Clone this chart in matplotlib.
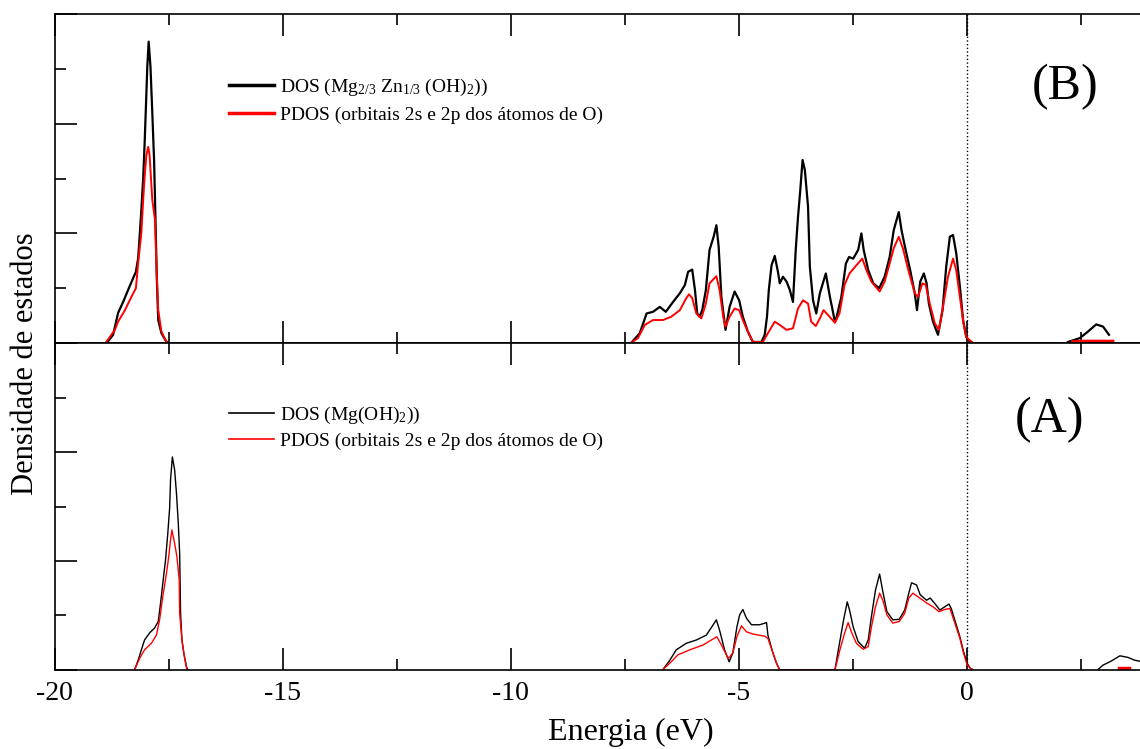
import numpy as np
import matplotlib
matplotlib.use("Agg")
import matplotlib.pyplot as plt
from matplotlib.ticker import MultipleLocator

plt.rcParams['font.family'] = ['Liberation Serif', 'DejaVu Serif']
plt.rcParams['mathtext.fontset'] = 'custom'
plt.rcParams['mathtext.rm'] = 'Liberation Serif'
plt.rcParams['mathtext.it'] = 'Liberation Serif:italic'

# ---- panel B : Mg2/3 Zn1/3 (OH)2 ----
b_core_e = [-18.86, -18.72, -18.61, -18.50, -18.36, -18.22, -18.17, -18.14, -18.10, -18.06,
            -18.03, -18.00, -17.97, -17.94, -17.90, -17.86, -17.82, -17.79, -17.76, -17.73,
            -17.66, -17.57, -17.52]
b_core_dos = [0, 1.5, 5.5, 7.5, 10.3, 13.0, 15.5, 19.2, 24.3, 30.1,
              36.1, 43.1, 50.4, 55.0, 50.4, 42.0, 33.1, 22.4, 11.5, 4.2,
              1.8, 0.5, 0]
b_core_pe = [-18.87, -18.68, -18.61, -18.46, -18.32, -18.22, -18.17, -18.10, -18.06, -18.03,
             -17.99, -17.95, -17.92, -17.86, -17.80, -17.77, -17.73, -17.66, -17.57, -17.52]
b_core_pdos = [0.2, 2.4, 3.9, 6.0, 8.4, 10.0, 14.6, 20.1, 26.1, 30.1,
               34.3, 35.8, 34.3, 26.1, 22.4, 13.9, 6.0, 2.1, 0.5, 0]

b_val_e = [-7.35, -7.17, -7.02, -6.88, -6.73, -6.60, -6.44, -6.29, -6.18, -6.11, -6.02, -5.96,
           -5.91, -5.86, -5.80, -5.72, -5.64, -5.55, -5.49, -5.44, -5.38, -5.29, -5.20, -5.09,
           -4.99, -4.91, -4.80, -4.69, -4.50, -4.43, -4.38, -4.34, -4.28, -4.21, -4.14, -4.10,
           -4.03, -3.95, -3.88, -3.81, -3.75, -3.70, -3.65, -3.60, -3.55, -3.48, -3.44, -3.37,
           -3.30, -3.22, -3.09, -3.00, -2.89, -2.86, -2.75, -2.65, -2.58, -2.49, -2.38, -2.31,
           -2.26, -2.16, -2.05, -1.92, -1.80, -1.69, -1.60, -1.49, -1.43, -1.34, -1.24, -1.14,
           -1.09, -1.02, -0.94, -0.88, -0.83, -0.74, -0.63, -0.53, -0.45, -0.37, -0.30, -0.23,
           -0.15, -0.08, -0.01, 0.07, 0.14]
b_val_dos = [0.1, 1.8, 5.4, 5.7, 6.6, 5.7, 7.5, 9.1, 10.6, 13.0, 13.4, 9.7,
             5.4, 4.8, 6.0, 9.7, 17.0, 19.4, 21.5, 17.6, 8.4, 2.4, 6.6, 9.4,
             7.8, 4.8, 2.1, 0.2, 0.2, 1.5, 4.8, 9.7, 14.2, 15.9, 13.0, 10.9,
             12.1, 11.2, 9.7, 7.5, 17.0, 23.0, 27.9, 33.4, 31.6, 24.9, 13.9, 7.8,
             5.4, 9.1, 12.7, 8.4, 3.9, 4.5, 8.4, 14.5, 15.7, 15.4, 17.0, 20.0,
             17.0, 13.3, 10.9, 10.0, 12.1, 15.7, 20.6, 23.9, 20.6, 17.0, 13.3, 9.1,
             6.0, 11.2, 12.7, 10.9, 7.2, 3.9, 1.5, 6.0, 13.9, 19.4, 19.7, 16.4,
             10.3, 4.2, 1.1, 0.2, 0]
b_val_pe = [-7.35, -7.21, -7.06, -6.88, -6.66, -6.48, -6.29, -6.15, -6.09, -6.02, -5.93, -5.82,
            -5.72, -5.64, -5.49, -5.42, -5.34, -5.29, -5.20, -5.09, -4.99, -4.91, -4.80, -4.69,
            -4.47, -4.36, -4.21, -4.10, -3.95, -3.81, -3.70, -3.59, -3.48, -3.41, -3.31, -3.22,
            -3.14, -3.04, -2.89, -2.79, -2.68, -2.57, -2.42, -2.29, -2.20, -2.09, -1.91, -1.80,
            -1.69, -1.60, -1.49, -1.40, -1.29, -1.14, -1.07, -0.97, -0.90, -0.81, -0.70, -0.61,
            -0.52, -0.41, -0.30, -0.23, -0.15, -0.07, -0.01, 0.07, 0.14]
b_val_pdos = [0.1, 0.9, 3.3, 4.2, 4.2, 4.8, 6.0, 8.2, 8.9, 8.2, 5.4, 4.5,
              7.2, 10.9, 12.2, 9.7, 4.8, 3.0, 4.8, 6.3, 6.0, 4.2, 2.1, 0.2,
              0.2, 1.8, 3.9, 3.3, 2.4, 2.7, 6.3, 7.8, 7.2, 3.9, 3.1, 4.5,
              6.0, 5.1, 3.7, 5.4, 10.6, 12.7, 14.2, 15.4, 13.3, 11.2, 9.4, 11.2,
              14.5, 17.3, 19.4, 17.3, 13.6, 9.1, 8.4, 10.9, 10.6, 7.2, 3.6, 2.4,
              6.6, 12.1, 15.4, 13.3, 8.4, 3.6, 1.1, 0.5, 0]

b_cond_e = [2.22, 2.48, 2.66, 2.84, 2.99, 3.12]
b_cond_dos = [0.2, 0.9, 2.1, 3.4, 3.0, 1.5]
b_cond_pe = [2.33, 2.50, 2.80, 3.20]
b_cond_pdos = [0.2, 0.3, 0.3, 0.3]

# ---- panel A : Mg(OH)2 ----
a_core_e = [-18.25, -18.17, -18.10, -18.03, -17.92, -17.81, -17.73, -17.68, -17.63, -17.57,
            -17.52, -17.48, -17.46, -17.42, -17.37, -17.33, -17.29, -17.26, -17.24, -17.21,
            -17.17, -17.11, -17.08]
a_core_dos = [0, 1.8, 3.7, 5.5, 6.8, 7.7, 8.9, 12.2, 15.9, 20.2,
              25.1, 29.7, 34.9, 39.1, 36.7, 32.4, 26.9, 21.4, 10.4, 5.5,
              3.1, 0.6, 0]
a_core_pe = [-18.25, -18.14, -18.03, -17.88, -17.77, -17.70, -17.63, -17.55, -17.50, -17.46,
             -17.43, -17.37, -17.32, -17.27, -17.26, -17.21, -17.15, -17.10]
a_core_pdos = [0, 2.1, 3.7, 4.9, 6.4, 9.2, 13.5, 17.7, 20.8, 23.9,
               25.7, 23.2, 20.8, 16.5, 10.4, 5.5, 2.1, 0]

a_val_e = [-6.66, -6.51, -6.37, -6.15, -5.93, -5.71, -5.56, -5.49, -5.42, -5.31, -5.21, -5.13,
           -5.04, -4.98, -4.91, -4.83, -4.72, -4.54, -4.39, -4.36, -4.26, -4.17, -4.10,
           -2.89, -2.79, -2.70, -2.62, -2.57, -2.49, -2.38, -2.24, -2.16, -2.09, -2.00, -1.91,
           -1.84, -1.75, -1.62, -1.48, -1.36, -1.27, -1.21, -1.10, -1.02, -0.88, -0.80, -0.70,
           -0.59, -0.48, -0.39, -0.34, -0.24, -0.15, -0.07, 0.01, 0.08, 0.15]
a_val_dos = [0.1, 1.8, 3.7, 4.9, 5.5, 6.4, 8.3, 9.2, 7.3, 3.7, 1.5, 3.1,
             7.9, 10.1, 11.1, 9.5, 8.3, 8.3, 8.7, 6.4, 3.4, 1.2, 0,
             0, 4.9, 9.2, 12.5, 11.0, 7.9, 5.2, 4.0, 5.5, 9.8, 14.7, 17.6,
             14.4, 10.7, 9.2, 9.3, 11.0, 14.1, 16.0, 15.6, 13.8, 12.8, 13.2, 12.2,
             11.0, 11.6, 12.1, 11.3, 8.6, 6.1, 3.4, 1.2, 0.3, 0]
a_val_pe = [-6.66, -6.48, -6.33, -6.07, -5.78, -5.60, -5.48, -5.38, -5.23, -5.13, -5.04, -4.94,
            -4.83, -4.69, -4.43, -4.36, -4.26, -4.17, -4.10,
            -2.89, -2.79, -2.68, -2.60, -2.53, -2.42, -2.27, -2.16, -2.09, -2.00, -1.91, -1.84,
            -1.75, -1.62, -1.48, -1.36, -1.27, -1.18, -1.03, -0.88, -0.74, -0.61, -0.48, -0.37,
            -0.26, -0.15, -0.07, 0.01, 0.08, 0.15]
a_val_pdos = [0.1, 1.5, 2.8, 3.7, 4.6, 5.5, 6.1, 4.6, 2.1, 3.1, 6.1, 8.1,
              7.0, 6.6, 6.2, 5.8, 3.4, 1.2, 0,
              0, 3.4, 6.7, 8.7, 7.0, 4.9, 3.8, 4.3, 7.9, 11.6, 14.1, 12.8,
              10.1, 8.6, 8.9, 10.4, 13.2, 14.1, 13.2, 12.3, 11.6, 10.7, 11.1, 11.3,
              8.6, 5.8, 3.1, 0.9, 0.3, 0]

a_cond_e = [2.88, 2.99, 3.14, 3.36, 3.54, 3.68, 3.80]
a_cond_dos = [0.1, 0.9, 1.5, 2.6, 2.3, 1.8, 1.6]
a_cond_pe = [3.35, 3.45, 3.55]
a_cond_pdos = [0.3, 0.3, 0.3]

xticks = [-20, -15, -10, -5, 0]
xlabel = 'Energia (eV)'
ylabel = 'Densidade de estados'
label_b = 'DOS (Mg$_{\\mathrm{2/3}}$ Zn$_{\\mathrm{1/3}}$ (OH)$_{\\mathrm{2}}$))'
label_a = 'DOS (Mg(OH)$_{\\mathrm{2}}$))'
label_p = 'PDOS (orbitais 2s e 2p dos átomos de O)'

fig = plt.figure(figsize=(11.4, 7.49), dpi=100)
ax_b = fig.add_axes([0.048, 0.542, 0.952, 0.439])
ax_a = fig.add_axes([0.048, 0.1055, 0.952, 0.4365], sharex=ax_b)

def style(ax):
    ax.set_xlim(-20, 3.8)
    ax.set_ylim(0, 60)
    ax.xaxis.set_major_locator(MultipleLocator(5))
    ax.xaxis.set_minor_locator(MultipleLocator(2.5))
    ax.yaxis.set_major_locator(MultipleLocator(20))
    ax.yaxis.set_minor_locator(MultipleLocator(10))
    ax.tick_params(which='both', direction='in', top=True, bottom=True, left=True, right=False,
                   labelleft=False, width=1.2)
    ax.tick_params(which='major', length=16)
    ax.tick_params(which='minor', length=8)
    ax.spines['right'].set_visible(False)
    for s in ['top', 'bottom', 'left']:
        ax.spines[s].set_linewidth(1.2)
    ax.axvline(0, color='black', linestyle=':', linewidth=1.0)

style(ax_b)
style(ax_a)

lw_b = 1.6
ax_b.plot(b_core_e, b_core_dos, color='black', lw=lw_b, label=label_b)
ax_b.plot(b_val_e, b_val_dos, color='black', lw=lw_b)
ax_b.plot(b_cond_e, b_cond_dos, color='black', lw=lw_b)
ax_b.plot(b_core_pe, b_core_pdos, color='red', lw=lw_b - 0.2, label=label_p)
ax_b.plot(b_val_pe, b_val_pdos, color='red', lw=lw_b - 0.2)
ax_b.plot(b_cond_pe, b_cond_pdos, color='red', lw=2.5)

lw_a = 1.0
ax_a.plot(a_core_e, a_core_dos, color='black', lw=lw_a, label=label_a)
ax_a.plot(a_val_e, a_val_dos, color='black', lw=lw_a)
ax_a.plot(a_cond_e, a_cond_dos, color='black', lw=lw_a)
ax_a.plot(a_core_pe, a_core_pdos, color='red', lw=lw_a, label=label_p)
ax_a.plot(a_val_pe, a_val_pdos, color='red', lw=lw_a)
ax_a.plot(a_cond_pe, a_cond_pdos, color='red', lw=2.5)

leg_b = ax_b.legend(loc='upper left', bbox_to_anchor=(0.161, 0.81), frameon=False, fontsize=14,
                    handlelength=2.3, handletextpad=0.3, labelspacing=0.45, borderpad=0,
                    borderaxespad=0)
for h in leg_b.get_lines():
    h.set_linewidth(2.5)
leg_a = ax_a.legend(loc='upper left', bbox_to_anchor=(0.161, 0.81), frameon=False, fontsize=14,
                    handlelength=2.3, handletextpad=0.3, labelspacing=0.3, borderpad=0,
                    borderaxespad=0)
for h in leg_a.get_lines():
    h.set_linewidth(1.2)

ax_b.text(0.931, 0.778, '(B)', transform=ax_b.transAxes, fontsize=36, ha='center', va='center')
ax_a.text(0.917, 0.765, '(A)', transform=ax_a.transAxes, fontsize=36, ha='center', va='center')

ax_b.tick_params(labelbottom=False)
ax_a.set_xticks(xticks)
ax_a.set_xticklabels([str(t) for t in xticks])
ax_a.tick_params(axis='x', labelsize=20, pad=8)

fig.text(0.553, 0.012, xlabel, fontsize=23, ha='center', va='baseline')
fig.text(0.022, 0.515, ylabel, fontsize=22, rotation=90, ha='center', va='center')

fig.savefig('out.png', dpi=100)
